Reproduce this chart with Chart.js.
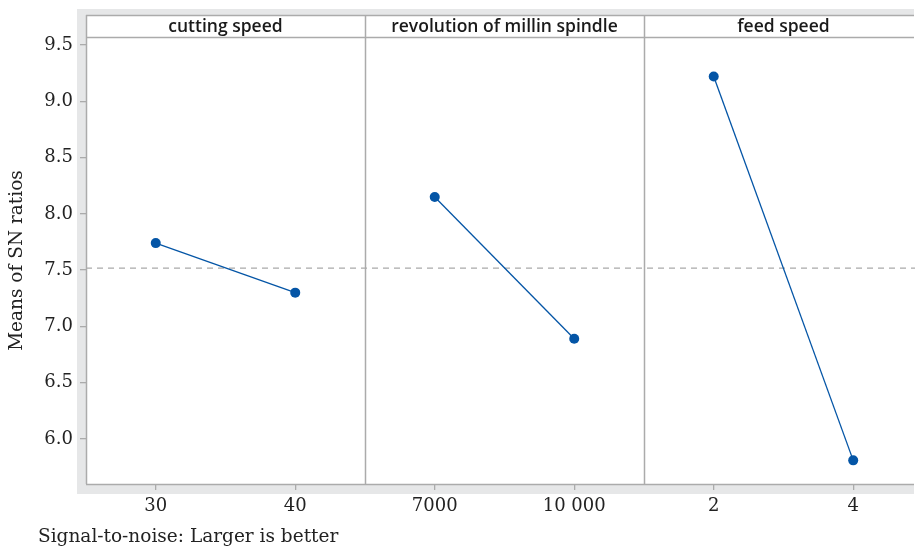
<!DOCTYPE html>
<html>
<head>
<meta charset="utf-8">
<script src="https://cdn.jsdelivr.net/npm/chart.js@4.4.1/dist/chart.umd.min.js"></script>
<style>
html,body{margin:0;padding:0;background:#fff;overflow:hidden;}
#wrap{width:915px;height:547px;position:relative;}
</style>
</head>
<body>
<div id="wrap"><canvas id="c" width="915" height="547"></canvas></div>
<script>
// ---- data ----
const panelTitles = ["cutting speed", "revolution of millin spindle", "feed speed"];
const levelLabels = ["30", "40", "7000", "10 000", "2", "4"];
const cuttingSpeedSN = [7.74, 7.30];
const spindleSN = [8.15, 6.89];
const feedSpeedSN = [9.22, 5.81];
const yTickValues = [6.0, 6.5, 7.0, 7.5, 8.0, 8.5, 9.0, 9.5];
const footnote = "Signal-to-noise: Larger is better";
const yTitle = "Means of SN ratios";

const allVals = cuttingSpeedSN.concat(spindleSN, feedSpeedSN);
const grandMean = allVals.reduce((a, b) => a + b, 0) / allVals.length;

const SERIF = "'DejaVu Serif', serif";
const SANS = "'Open Sans', 'Noto Sans', sans-serif";
const BLUE = "#0455a6";
const BORDER = "#ababab";
const FRAME = "#e6e7e8";

const XMAX = 5.943;
function pts(arr, panel) { return arr.map((v, i) => ({ x: panel * 2 + 0.5 + i, y: v })); }
const lineDs = (arr, panel) => ({
  data: pts(arr, panel), borderColor: BLUE, backgroundColor: BLUE, borderWidth: 1.3,
  pointRadius: 5, pointHoverRadius: 5, pointBorderWidth: 0, tension: 0
});

const framePlugin = {
  id: 'frame',
  beforeDraw(chart) {
    const ctx = chart.ctx, a = chart.chartArea;
    ctx.save();
    ctx.fillStyle = FRAME;
    ctx.fillRect(77, 9, 914 - 77, 494 - 9);
    ctx.fillStyle = "#fff";
    ctx.fillRect(a.left, 15, 914 - a.left, a.bottom - 15);
    ctx.restore();
  },
  afterDatasetsDraw(chart) {
    const ctx = chart.ctx, a = chart.chartArea, xs = chart.scales.x;
    ctx.save();
    ctx.strokeStyle = BORDER;
    ctx.lineWidth = 1.5;
    ctx.beginPath();
    ctx.moveTo(a.left, 15.5); ctx.lineTo(914, 15.5);
    ctx.moveTo(a.left, a.top + 0.5); ctx.lineTo(914, a.top + 0.5);
    ctx.moveTo(a.left + 0.5, 15); ctx.lineTo(a.left + 0.5, a.bottom);
    ctx.moveTo(a.left, a.bottom + 0.5); ctx.lineTo(914, a.bottom + 0.5);
    [2, 4].forEach(v => {
      const px = Math.round(xs.getPixelForValue(v)) + 0.5;
      ctx.moveTo(px, 15); ctx.lineTo(px, a.bottom);
    });
    ctx.stroke();
    ctx.fillStyle = "#1a1a1a";
    ctx.font = "600 17.5px " + SANS;
    ctx.textAlign = "center";
    ctx.textBaseline = "middle";
    panelTitles.forEach((t, i) => {
      ctx.fillText(t, xs.getPixelForValue(i * 2 + 1), (15 + a.top) / 2 + 1);
    });
    ctx.fillStyle = "#222";
    ctx.font = "18.5px " + SERIF;
    ctx.textAlign = "left";
    ctx.textBaseline = "alphabetic";
    ctx.fillText(footnote, 38, 542);
    ctx.restore();
  }
};

new Chart(document.getElementById('c'), {
  type: 'line',
  data: {
    datasets: [
      lineDs(cuttingSpeedSN, 0),
      lineDs(spindleSN, 1),
      lineDs(feedSpeedSN, 2),
      {
        data: [{ x: 0, y: grandMean }, { x: XMAX, y: grandMean }],
        borderColor: "#a9a9a9", borderWidth: 1.3, borderDash: [6, 5],
        pointRadius: 0, order: 10
      }
    ]
  },
  options: {
    responsive: false,
    animation: false,
    events: [],
    layout: { autoPadding: false, padding: { top: 37, right: 0, bottom: 23, left: 0 } },
    plugins: { legend: { display: false }, tooltip: { enabled: false } },
    scales: {
      x: {
        type: 'linear', min: 0, max: XMAX,
        afterBuildTicks(s) { s.ticks = [0.5, 1.5, 2.5, 3.5, 4.5, 5.5].map(v => ({ value: v })); },
        afterFit(s) { s.height = 40; s.paddingLeft = 0; s.paddingRight = 0; },
        ticks: {
          callback: (v) => { const i = Math.round(v - 0.5); return levelLabels[i]; },
          color: "#222", font: { family: SERIF, size: 18 }, padding: 6, maxRotation: 0, autoSkip: false
        },
        grid: { drawOnChartArea: false, drawTicks: true, tickLength: 6, color: BORDER, lineWidth: 1.3 },
        border: { display: false }
      },
      y: {
        min: 5.6, max: 9.571,
        afterBuildTicks(s) { s.ticks = yTickValues.map(v => ({ value: v })); },
        afterFit(s) { s.width = 86; s.paddingTop = 0; s.paddingBottom = 0; },
        ticks: {
          callback: (v) => Number(v).toFixed(1),
          color: "#222", font: { family: SERIF, size: 18 }, padding: 7
        },
        grid: { drawOnChartArea: false, drawTicks: true, tickLength: 6, color: BORDER, lineWidth: 1.3 },
        border: { display: false },
        title: { display: true, text: yTitle, color: "#222", font: { family: SERIF, size: 18.5 }, padding: { top: 6, bottom: 0 } }
      }
    }
  },
  plugins: [framePlugin]
});
</script>
</body>
</html>
